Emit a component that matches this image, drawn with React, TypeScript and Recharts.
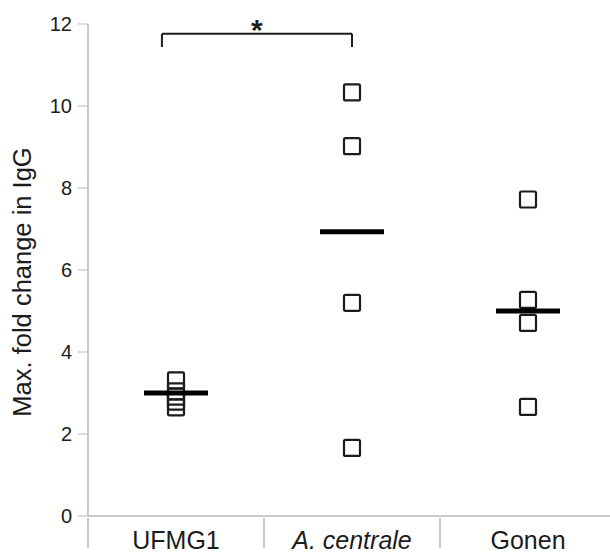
import {
  ComposedChart,
  Scatter,
  XAxis,
  YAxis,
  ReferenceLine,
  ReferenceDot,
} from "recharts"

const categories = ["UFMG1", "A. centrale", "Gonen"]
const italicCategories = ["A. centrale"]
const ufmg1Values = [3.31, 3.04, 2.91, 2.79, 2.65]
const centraleValues = [10.33, 9.02, 5.2, 1.66]
const gonenValues = [7.72, 5.27, 4.71, 2.66]
const groupMeans = [3.0, 6.93, 5.0]
const yTicks = [0, 2, 4, 6, 8, 10, 12]
const bracketX = [0.92, 2.0]
const bracketY = [11.44, 11.76]
const bracketMark = "*"

const FONT = "'Liberation Sans', Arial, sans-serif"
const INK = "#1c1c1c"
const AXIS = "#b8b8b8"

const points = [ufmg1Values, centraleValues, gonenValues].flatMap((vals, i) =>
  vals.map((v) => ({ x: i + 1, y: v }))
)
const means = groupMeans.map((m, i) => ({ x: i + 1, y: m }))
// integer ticks carry the labels, half ticks are the separators
const xTicks = [0.5, 1, 1.5, 2, 2.5, 3]

const Square = (p: any) => (
  <rect
    x={p.cx - 8}
    y={p.cy - 8}
    width={16}
    height={16}
    rx={1.5}
    fill="none"
    stroke={INK}
    strokeWidth={2.2}
  />
)

const MeanBar = (p: any) => (
  <line
    x1={p.cx - 32}
    x2={p.cx + 32}
    y1={p.cy}
    y2={p.cy}
    stroke="#000"
    strokeWidth={5}
  />
)

const CategoryTick = (p: any) => {
  const v = p.payload.value
  if (!Number.isInteger(v)) {
    return <line x1={p.x} x2={p.x} y1={p.y} y2={p.y + 30} stroke={AXIS} strokeWidth={1.5} />
  }
  const name = categories[v - 1]
  return (
    <text
      x={p.x}
      y={p.y + 31}
      textAnchor="middle"
      fontSize={25}
      fontFamily={FONT}
      fill={INK}
      fontStyle={italicCategories.includes(name) ? "italic" : "normal"}
    >
      {name}
    </text>
  )
}

export default function App() {
  return (
    <div
      style={{
        position: "fixed",
        top: 0,
        left: 0,
        width: 610,
        height: 554,
        overflow: "hidden",
        background: "#fff",
      }}
    >
      <ComposedChart width={620} height={554} margin={{ top: 24, right: 4, bottom: 0, left: 0 }}>
        <XAxis
          dataKey="x"
          type="number"
          domain={[0.5, 3.5]}
          ticks={xTicks}
          interval={0}
          height={38}
          tickSize={0}
          tickLine={false}
          axisLine={{ stroke: AXIS, strokeWidth: 1.5 }}
          tick={<CategoryTick />}
        />
        <YAxis
          dataKey="y"
          type="number"
          domain={[0, 12]}
          ticks={yTicks}
          width={88}
          tickSize={10}
          tickMargin={6}
          axisLine={{ stroke: AXIS, strokeWidth: 1.5 }}
          tickLine={{ stroke: AXIS }}
          tick={{ fontSize: 20, fontFamily: FONT, fill: INK }}
          label={{
            content: (props: any) => {
              const vb = props.viewBox
              const cx = vb.x + 22
              const cy = vb.y + vb.height / 2 + 12
              return (
                <text
                  x={cx}
                  y={cy}
                  transform={`rotate(-90, ${cx}, ${cy})`}
                  textAnchor="middle"
                  dominantBaseline="central"
                  fontSize={25.5}
                  fontFamily={FONT}
                  fill={INK}
                >
                  Max. fold change in IgG
                </text>
              )
            },
          }}
        />
        <ReferenceLine
          segment={[
            { x: bracketX[0], y: bracketY[1] },
            { x: bracketX[1], y: bracketY[1] },
          ]}
          stroke={INK}
          strokeWidth={2}
          ifOverflow="visible"
        />
        <ReferenceLine
          segment={[
            { x: bracketX[0], y: bracketY[0] },
            { x: bracketX[0], y: bracketY[1] },
          ]}
          stroke={INK}
          strokeWidth={2}
          ifOverflow="visible"
        />
        <ReferenceLine
          segment={[
            { x: bracketX[1], y: bracketY[0] },
            { x: bracketX[1], y: bracketY[1] },
          ]}
          stroke={INK}
          strokeWidth={2}
          ifOverflow="visible"
        />
        <ReferenceDot
          x={(bracketX[0] + bracketX[1]) / 2}
          y={bracketY[1]}
          ifOverflow="visible"
          shape={(p: any) => (
            <text
              x={p.cx}
              y={p.cy + 6}
              textAnchor="middle"
              fontSize={30}
              fontWeight="bold"
              fontFamily={FONT}
              fill={INK}
            >
              {bracketMark}
            </text>
          )}
        />
        <Scatter data={points} shape={<Square />} isAnimationActive={false} />
        <Scatter data={means} shape={<MeanBar />} isAnimationActive={false} />
      </ComposedChart>
    </div>
  )
}
